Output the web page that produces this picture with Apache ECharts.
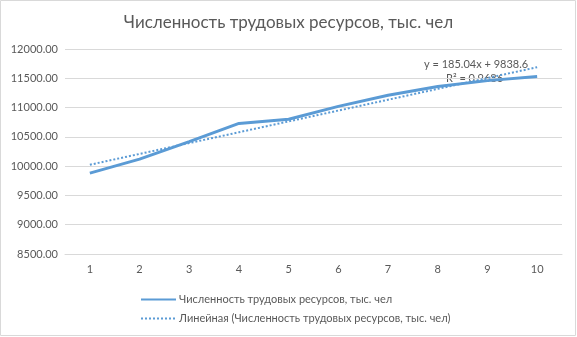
<!DOCTYPE html>
<html><head><meta charset="utf-8">
<script src="https://cdn.jsdelivr.net/npm/echarts@6/dist/echarts.min.js"></script>
<style>html,body{margin:0;padding:0;background:#fff}#c{width:577px;height:337px}</style>
</head><body><div id="c"></div>
<script>
const categories = ['1','2','3','4','5','6','7','8','9','10'];
const workforce = [9880, 10120, 10420, 10730, 10800, 11020, 11210, 11360, 11460, 11530];
const trend = [10023.6, 10208.7, 10393.7, 10578.8, 10763.8, 10948.8, 11133.9, 11318.9, 11504.0, 11689.0];
const seriesName = 'Численность трудовых ресурсов, тыс. чел';
const trendName = 'Линейная (Численность трудовых ресурсов, тыс. чел)';
const eqText = 'y = 185.04x + 9838.6';
const r2Text = 'R² = 0.9686';
const FONT = 'Lato, "Open Sans", sans-serif';
const chart = echarts.init(document.getElementById('c'));
chart.setOption({
  animation: false,
  title: { text: seriesName, left: 'center', top: 9,
    textStyle: { fontFamily: FONT, fontSize: 17, fontWeight: 'normal', color: '#595959' } },
  grid: { left: 65, right: 15, top: 49, bottom: 83, containLabel: false },
  xAxis: { type: 'category', data: categories, boundaryGap: true,
    axisLine: { lineStyle: { color: '#d9d9d9' } }, axisTick: { show: false },
    axisLabel: { color: '#595959', fontFamily: FONT, fontSize: 11, margin: 10 } },
  yAxis: { type: 'value', min: 8500, max: 12000, interval: 500,
    axisLine: { show: false }, axisTick: { show: false },
    splitLine: { lineStyle: { color: '#d9d9d9' } },
    axisLabel: { color: '#595959', fontFamily: FONT, fontSize: 11, margin: 7,
      formatter: v => v.toFixed(2) } },
  legend: { orient: 'vertical', left: 135, top: 289, itemWidth: 35, itemHeight: 10, itemGap: 8,
    textStyle: { color: '#595959', fontFamily: FONT, fontSize: 11, padding: [0, 0, 0, -2] },
    itemStyle: { opacity: 0 },
    data: [seriesName, trendName] },
  series: [
    { name: seriesName, type: 'line', data: workforce, symbol: 'none',
      lineStyle: { color: '#5B9BD5', width: 3 }, itemStyle: { color: '#5B9BD5' } },
    { name: trendName, type: 'line', data: trend, symbol: 'none',
      lineStyle: { color: '#5B9BD5', width: 2, type: [2, 2] }, itemStyle: { color: '#5B9BD5' } }
  ],
  graphic: [
    { type: 'rect', shape: { x: 0.5, y: 0.5, width: 575, height: 335 },
      style: { fill: 'none', stroke: '#d9d9d9', lineWidth: 1 }, silent: true },
    { type: 'text', left: 424, top: 59, style: { text: eqText, fill: '#595959', font: '11px ' + FONT } },
    { type: 'text', left: 446, top: 73, style: { text: r2Text, fill: '#595959', font: '11px ' + FONT } }
  ]
});
</script></body></html>
